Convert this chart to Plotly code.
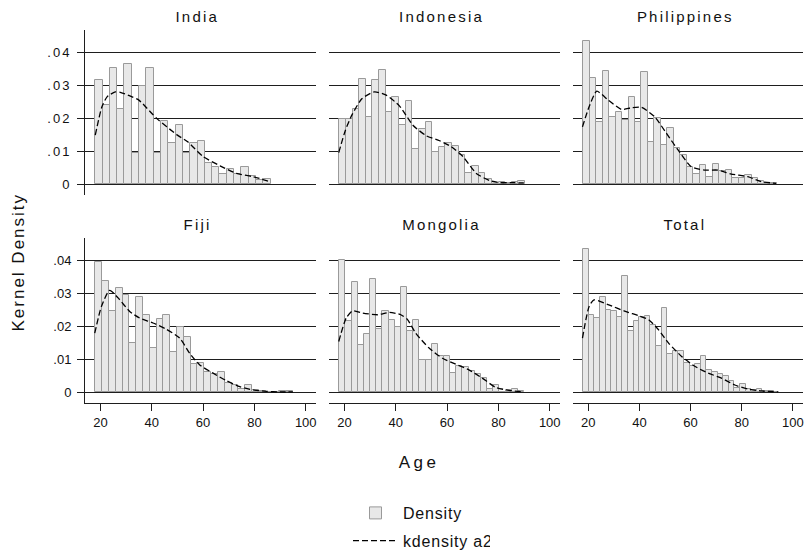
import plotly.graph_objects as go

# ---------------- data ----------------
panel_names = ["India", "Indonesia", "Philippines", "Fiji", "Mongolia", "Total"]

# histogram bins: first edge and bin width (years) per panel
bin_start = [18.0, 18.0, 18.0, 18.0, 18.0, 18.0]
bin_width = [2.846, 2.586, 2.533, 2.655, 2.40, 2.19]

india_density = [.0317, .0240, .0352, .0228, .0366, .0095, .0298, .0352, .0095, .0191,
                 .0126, .0179, .0096, .0126, .0132, .0065, .0053, .0030, .0047, .0030,
                 .0053, .0025, .0013, .0017]
indonesia_density = [.0199, .0197, .0227, .0320, .0204, .0315, .0345, .0219, .0266, .0179,
                     .0252, .0106, .0169, .0189, .0099, .0112, .0126, .0116, .0088, .0033,
                     .0056, .0033, .0015, .0000, .0006, .0005, .0006, .0009]
philippines_density = [.0433, .0323, .0189, .0343, .0204, .0220, .0196, .0265, .0189, .0339,
                       .0129, .0201, .0119, .0171, .0109, .0089, .0051, .0030, .0058, .0023,
                       .0062, .0040, .0043, .0020, .0020, .0029, .0020, .0010, .0005, .0004]
fiji_density = [.0395, .0338, .0247, .0316, .0296, .0149, .0289, .0233, .0134, .0222,
                .0233, .0123, .0197, .0167, .0085, .0088, .0060, .0056, .0061, .0027,
                .0022, .0009, .0022, .0006, .0004, .0002, .0001, .0003, .0003]
mongolia_density = [.0402, .0215, .0335, .0142, .0177, .0343, .0191, .0245, .0218, .0199,
                    .0318, .0187, .0218, .0098, .0098, .0145, .0110, .0110, .0059, .0080,
                    .0076, .0066, .0056, .0043, .0009, .0021, .0000, .0007, .0010, .0003]
total_density = [.0434, .0233, .0225, .0288, .0248, .0245, .0228, .0351, .0187, .0217,
                 .0228, .0232, .0203, .0141, .0255, .0115, .0124, .0124, .0088, .0080,
                 .0086, .0110, .0068, .0060, .0055, .0050, .0033, .0012, .0025, .0010,
                 .0007, .0010, .0005, .0004, .0002]

# kernel density curves (age, density)
india_kde_age = [18, 20.6, 22.6, 25.8, 28, 31.7, 35, 42, 50, 54, 60, 66.6, 73, 79.5, 86]
india_kde = [.0149, .0235, .0265, .0280, .0278, .0267, .0255, .0199, .0149, .0129,
             .0084, .0056, .0033, .0023, .0008]
indonesia_kde_age = [17.8, 20.4, 23, 26.9, 31.7, 36.3, 41.5, 46.7, 51.9, 57.1, 61.6, 66.2,
                     71.4, 76.6, 80.5, 85.7, 89.9]
indonesia_kde = [.0096, .0164, .0211, .0260, .0280, .0270, .0237, .0179, .0147, .0132,
                 .0114, .0084, .0033, .0011, .0005, .0005, .0004]
philippines_kde_age = [17.7, 20.3, 23.3, 27.8, 33, 36.9, 40.8, 46, 50.6, 55.1, 60.3, 65.5,
                       70.7, 75.9, 82.4, 87.6, 93.5]
philippines_kde = [.0174, .0235, .0282, .0255, .0227, .0232, .0233, .0204, .0154, .0104,
                   .0053, .0043, .0043, .0031, .0023, .0008, .0003]
fiji_kde_age = [17.8, 20.4, 23.6, 26.9, 31.4, 35.3, 40.5, 45.7, 50.9, 54.8, 58.7, 63.9,
                69.1, 74.3, 79.5, 84.7, 89.9, 95]
fiji_kde = [.0179, .0260, .0309, .0286, .0245, .0225, .0210, .0191, .0164, .0118, .0083,
            .0058, .0035, .0017, .0007, .0003, .0001, .0001]
mongolia_kde_age = [17.8, 20.7, 23.2, 27.1, 33, 37.5, 42, 44.6, 47.8, 53, 58.2, 63.4, 68.5,
                    73.7, 78.9, 84.1, 89.9]
mongolia_kde = [.0154, .0225, .0247, .0240, .0235, .0242, .0235, .0220, .0179, .0134,
                .0103, .0085, .0068, .0043, .0015, .0006, .0001]
total_kde_age = [17.7, 20.3, 22.2, 28, 34.5, 39.7, 43.6, 47.5, 51.4, 56.6, 61.8, 66.9,
                 72.1, 77.3, 82.5, 87.7, 94.2]
total_kde = [.0164, .0260, .0280, .0265, .0245, .0232, .0220, .0189, .0149, .0108, .0078,
             .0058, .0043, .0022, .0010, .0004, .0001]

y_tick_vals = [0, .01, .02, .03, .04]
y_tick_text = ["0", ".01", ".02", ".03", ".04"]
x_tick_vals = [20, 40, 60, 80, 100]
x_tick_text = ["20", "40", "60", "80", "100"]

densities = [india_density, indonesia_density, philippines_density,
             fiji_density, mongolia_density, total_density]
kde_ages = [india_kde_age, indonesia_kde_age, philippines_kde_age,
            fiji_kde_age, mongolia_kde_age, total_kde_age]
kdes = [india_kde, indonesia_kde, philippines_kde, fiji_kde, mongolia_kde, total_kde]

# ---------------- layout geometry ----------------
W, H = 804, 558
col_px = [(85, 316), (329, 560), (573, 803)]
row_px = [(30, 195), (238, 403)]  # top, bottom in pixels from top
FONT = "Liberation Sans, Arial, sans-serif"
BAR_FILL = "#e8e8e8"
BAR_LINE = "#9a9a9a"
GRID = "#1e1e1e"
TXT = "#111111"

fig = go.Figure()
layout_axes = {}
annotations = []

for i, name in enumerate(panel_names):
    r, c = divmod(i, 3)
    n = i + 1
    xa = "x" if n == 1 else f"x{n}"
    ya = "y" if n == 1 else f"y{n}"
    heights = densities[i]
    centers = [bin_start[i] + bin_width[i] * (k + 0.5) for k in range(len(heights))]
    fig.add_trace(go.Bar(
        x=centers, y=heights, width=bin_width[i],
        marker=dict(color=BAR_FILL, line=dict(color=BAR_LINE, width=1)),
        name="Density", legendgroup="hist", showlegend=(i == 0),
        xaxis=xa, yaxis=ya))
    fig.add_trace(go.Scatter(
        x=kde_ages[i], y=kdes[i], mode="lines",
        line=dict(color="black", width=1.3, dash="6px,3px", shape="spline", smoothing=0.6),
        name="kdensity a2", legendgroup="kde", showlegend=(i == 0),
        xaxis=xa, yaxis=ya))

    x0, x1 = col_px[c]
    yt, yb = row_px[r]
    xkey = "xaxis" if n == 1 else f"xaxis{n}"
    ykey = "yaxis" if n == 1 else f"yaxis{n}"
    bottom = (r == 1)
    left = (c == 0)
    layout_axes[xkey] = dict(
        domain=[x0 / W, x1 / W], range=[14, 104], anchor=ya, automargin=False,
        showgrid=False, zeroline=False,
        showline=bottom, linecolor=GRID, linewidth=1,
        ticks="outside" if bottom else "", ticklen=7, tickcolor=GRID,
        tickvals=x_tick_vals, ticktext=x_tick_text,
        showticklabels=bottom, ticklabeloverflow="allow",
        tickfont=dict(family=FONT, size=13, color=TXT),
    )
    layout_axes[ykey] = dict(
        domain=[1 - yb / H, 1 - yt / H], range=[-0.00325, 0.04675], anchor=xa,
        automargin=False,
        showgrid=True, gridcolor=GRID, gridwidth=1, zeroline=False,
        showline=left, linecolor=GRID, linewidth=1,
        ticks="outside" if left else "", ticklen=7, tickcolor=GRID,
        tickvals=y_tick_vals, ticktext=y_tick_text,
        showticklabels=left, ticklabelstandoff=3,
        tickfont=dict(family=FONT, size=13, color=TXT),
    )
    title_y = 16 if r == 0 else 224
    annotations.append(dict(
        text=name, x=((x0 + x1) / 2 - 3) / W, y=1 - title_y / H,
        xref="paper", yref="paper", xanchor="center", yanchor="middle",
        showarrow=False, font=dict(family=FONT, size=15, color=TXT)))

annotations.append(dict(
    text="Age", x=419 / W, y=1 - 462 / H, xref="paper", yref="paper",
    xanchor="center", yanchor="middle", showarrow=False,
    font=dict(family=FONT, size=17, color=TXT)))
annotations.append(dict(
    text="Kernel Density", x=17.5 / W, y=1 - 262 / H, xref="paper", yref="paper",
    xanchor="center", yanchor="middle", showarrow=False, textangle=-90,
    font=dict(family=FONT, size=17, color=TXT)))

fig.update_layout(
    width=W, height=H,
    margin=dict(l=0, r=0, t=0, b=0),
    paper_bgcolor="white", plot_bgcolor="white",
    bargap=0, barmode="overlay",
    annotations=annotations,
    showlegend=True,
    legend=dict(
        x=348 / W, y=0, xanchor="left", yanchor="bottom",
        orientation="v", traceorder="grouped", tracegroupgap=4,
        font=dict(family=FONT, size=16, color=TXT),
        bgcolor="rgba(0,0,0,0)", itemwidth=45,
    ),
    **layout_axes,
)

# page body has a default 8px margin; remove it, and add Stata-like letter spacing
post_js = """
document.body.style.margin = '0';
var gd = document.getElementById('{plot_id}');
function sp(sel, v) {
  var els = gd.querySelectorAll(sel);
  for (var i = 0; i < els.length; i++) { els[i].style.letterSpacing = v; }
}
sp('.xtick text', '1px');
sp('.ytick text', '2px');
sp('.legendtext', '0.8px');
var ann = gd.querySelectorAll('.annotation-text');
for (var j = 0; j < ann.length; j++) {
  var t = ann[j].textContent;
  ann[j].style.letterSpacing = (t === 'Age') ? '3.5px' : (t === 'Kernel Density' ? '2px' : '2.2px');
}
"""

fig.write_html("out.html", post_script=post_js, config={"displayModeBar": False})
